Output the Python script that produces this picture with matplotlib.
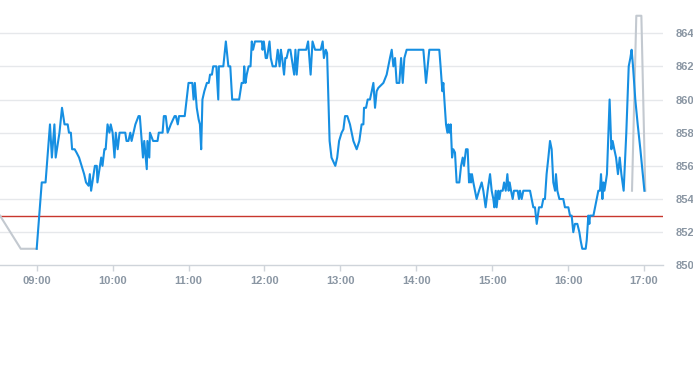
import matplotlib
matplotlib.use("Agg")
import matplotlib.pyplot as plt

# minutes after 09:00 and price for the intraday series
minutes = [0, 4, 7, 10.5, 12, 14, 15, 18, 20, 22, 24.5, 25.5, 27, 28, 30, 31.5, 33.5, 35.5, 37.5, 39,
           41, 42, 43, 45, 46, 47.5, 48, 50, 51, 52, 53.5, 54.5, 56, 57.5, 58.5, 60, 61.5, 62.5, 64, 65.5,
           70, 71, 72.5, 74, 75, 76.5, 78, 80.5, 81.5, 84, 85, 87, 87.5, 89, 89.5, 92, 93.5, 95.5, 96.5, 99.5,
           100.5, 102, 103.5, 106, 109, 110, 111.5, 112.5, 117, 118.5, 120, 123, 124, 125, 126.5, 128, 129, 130, 131, 132.5,
           134.5, 136, 137, 138.5, 139.5, 141, 142, 143.5, 144, 146, 147.5, 149.5, 151.5, 153, 154.5, 160, 162, 163.5, 164, 165,
           166, 167.5, 169, 170, 171, 172.5, 178, 178.5, 179.5, 181, 182, 183, 184, 185, 186.5, 189, 190.5, 192, 193, 194,
           195.5, 196.5, 197.5, 199, 200.5, 202.5, 203.5, 204.5, 205.5, 207, 209.5, 213, 214.5, 216.5, 218, 220, 224.5, 226, 227, 228.5,
           229.5, 231.5, 233, 236, 237.5, 239, 241, 242.4, 243.7, 245.5, 247.6, 250.3, 252.9, 255, 256.8, 258.2, 258.7, 260.3, 261.6, 263.4,
           264.8, 266.1, 267.4, 268.7, 270, 274, 276.6, 277.9, 279.2, 280.6, 281.9, 283.2, 284.5, 286.6, 288, 289.3, 290.6, 292.4, 305.6, 307.7,
           310.3, 318.2, 319.2, 320.6, 321.4, 322.2, 323.5, 324.6, 325.4, 326.2, 327.2, 328.3, 329.3, 330.6, 331.9, 334, 335.4, 336.7, 337.7, 339.3,
           340.6, 341.7, 342.5, 343.3, 344, 345.1, 346.4, 347.7, 349.6, 351.7, 353, 354.8, 356.4, 358.3, 359.6, 360.9, 361.7, 362.8, 363.5, 364.9,
           365.7, 366.7, 368.3, 369.4, 370.7, 372, 373, 373.8, 374.9, 376.2, 377.2, 380.1, 381.2, 382, 383.3, 384.6, 385.9, 389.9, 391.2, 392.5,
           393.8, 395.2, 397, 399.1, 400.4, 401.7, 403, 404.4, 405.7, 407, 408.3, 409.7, 410.4, 411.5, 413.1, 416.2, 417.5, 420.2, 421.5, 422.8,
           424.1, 425.4, 427.3, 428.9, 429.9, 431.2, 433.9, 434.7, 436, 436.8, 437.3, 440, 441.3, 442.6, 443.9, 445.2, 446, 447.1, 447.9, 448.7,
           449.7, 450.7, 452.8, 454.2, 455.2, 456.5, 457.9, 459.4, 460.8, 462.1, 463.9, 466, 467.9, 469.2, 470.2, 471.3, 473.1, 475, 477.1, 480.3]
prices = [851, 855, 855, 858.5, 856.5, 858.5, 856.5, 858, 859.5, 858.5, 858.5, 858, 858, 857, 857, 856.8, 856.5, 856, 855.5, 855,
          854.8, 855.5, 854.5, 855.5, 856, 856, 855, 856, 856.5, 856, 857, 857, 858.5, 858, 858.5, 858, 856.5, 858, 857, 858,
          858, 857.5, 857.5, 858, 857.5, 858, 858.5, 859, 859, 856.5, 857.5, 855.8, 857.5, 856.5, 858, 857.5, 857.5, 857.5, 858, 858,
          859, 859, 858, 858.5, 859, 859, 858.5, 859, 859, 860, 861, 861, 860, 861, 859.5, 858.8, 858.5, 857, 860, 860.5,
          861, 861, 861.5, 861.5, 862, 862, 862, 860, 862, 862, 862, 863.5, 862, 862, 860, 860, 861, 861, 862, 861,
          861.5, 862, 862, 863.5, 863, 863.5, 863.5, 863, 863.5, 862.5, 862.5, 863, 863.5, 862.5, 862, 862, 863, 862, 863, 862.5,
          861.5, 862.5, 862.5, 863, 863, 862, 861.5, 863, 861.5, 863, 863, 863, 863.5, 861.5, 863.5, 863, 863, 863.5, 862.5, 863,
          862.8, 857.5, 856.5, 856, 856.5, 857.5, 858, 858.2, 859, 859, 858.5, 857.5, 857, 857.5, 858.5, 858.5, 859.5, 859.5, 860, 860,
          860.5, 861, 859.5, 860.5, 860.7, 861, 861.5, 862, 862.5, 863, 862, 862.5, 861, 861, 862.5, 861, 862.5, 863, 863, 861,
          863, 863, 862, 860.5, 861, 860, 858.5, 858, 858.5, 858, 858.5, 856.5, 857, 856.8, 855, 855, 856, 856.5, 856, 857,
          857, 855, 855.5, 855, 855.5, 855, 854.5, 854, 854.5, 855, 854.5, 853.5, 854.5, 855.5, 854.5, 854, 853.5, 854.5, 853.5, 854.5,
          854, 854.5, 854.5, 855, 854.5, 855.5, 854.5, 855, 854.5, 854, 854.5, 854.5, 854, 854.5, 854, 854.5, 854.5, 854.5, 854, 853.5,
          853.5, 852.5, 853.5, 853.5, 854, 854, 855.5, 856.5, 857.5, 857, 855, 854.5, 855.5, 854.5, 854, 854, 853.5, 853.5, 853, 853,
          852, 852.5, 852.5, 852, 851.5, 851, 851, 851.5, 853, 852.5, 853, 853, 853.5, 854, 854.5, 854.5, 855.5, 854, 855, 854.5,
          855, 855.5, 860, 857, 857.5, 857, 856.5, 855.5, 856.5, 855.5, 854.5, 858, 862, 862.5, 863, 862, 860, 858.5, 857, 854.5]

# grey reference series (pre-open and post-close)
pre_minutes = [-29, -12.6, 0]
pre_prices = [853, 851, 851]
post_minutes = [470.5, 473.9, 477.9, 481.0]
post_prices = [854.5, 865.05, 865.05, 854.5]

ref_price = 853
yticks = [850, 852, 854, 856, 858, 860, 862, 864]
xtick_minutes = [0, 60, 120, 180, 240, 300, 360, 420, 480]
xtick_labels = ["09:00", "10:00", "11:00", "12:00", "13:00", "14:00", "15:00", "16:00", "17:00"]

fig = plt.figure(figsize=(6.93, 3.65), dpi=100)
ax = fig.add_axes([0, 0.273, 663 / 693, 0.727])

ax.set_xlim(-29, 495)
ax.set_ylim(850, 866)

for y in yticks:
    if y != 850:
        ax.axhline(y, color="#e6e8eb", lw=1.0, zorder=0)

ax.axhline(ref_price, color="#c8372d", lw=1.0, zorder=2)
ax.plot(pre_minutes, pre_prices, color="#c3c9d0", lw=1.5, zorder=3, solid_joinstyle="round")
ax.plot(post_minutes, post_prices, color="#c3c9d0", lw=1.5, zorder=3, solid_joinstyle="round")
ax.plot(minutes, prices, color="#168fe2", lw=1.5, zorder=4, solid_joinstyle="round")

for s in ["top", "left", "right"]:
    ax.spines[s].set_visible(False)
ax.spines["bottom"].set_color("#cfd4da")
ax.spines["bottom"].set_linewidth(1.0)

ax.yaxis.tick_right()
ax.set_yticks(yticks)
ax.set_yticklabels([str(v) for v in yticks])
ax.tick_params(axis="y", length=0, pad=9, labelsize=8, labelcolor="#8a96a3")

ax.set_xticks(xtick_minutes)
ax.set_xticklabels(xtick_labels)
ax.tick_params(axis="x", length=4, width=1, color="#cfd4da", pad=4, labelsize=8, labelcolor="#8a96a3")

for lbl in ax.get_xticklabels() + ax.get_yticklabels():
    lbl.set_fontweight("bold")
    lbl.set_family("Liberation Sans")

fig.savefig("out.png", dpi=100)
